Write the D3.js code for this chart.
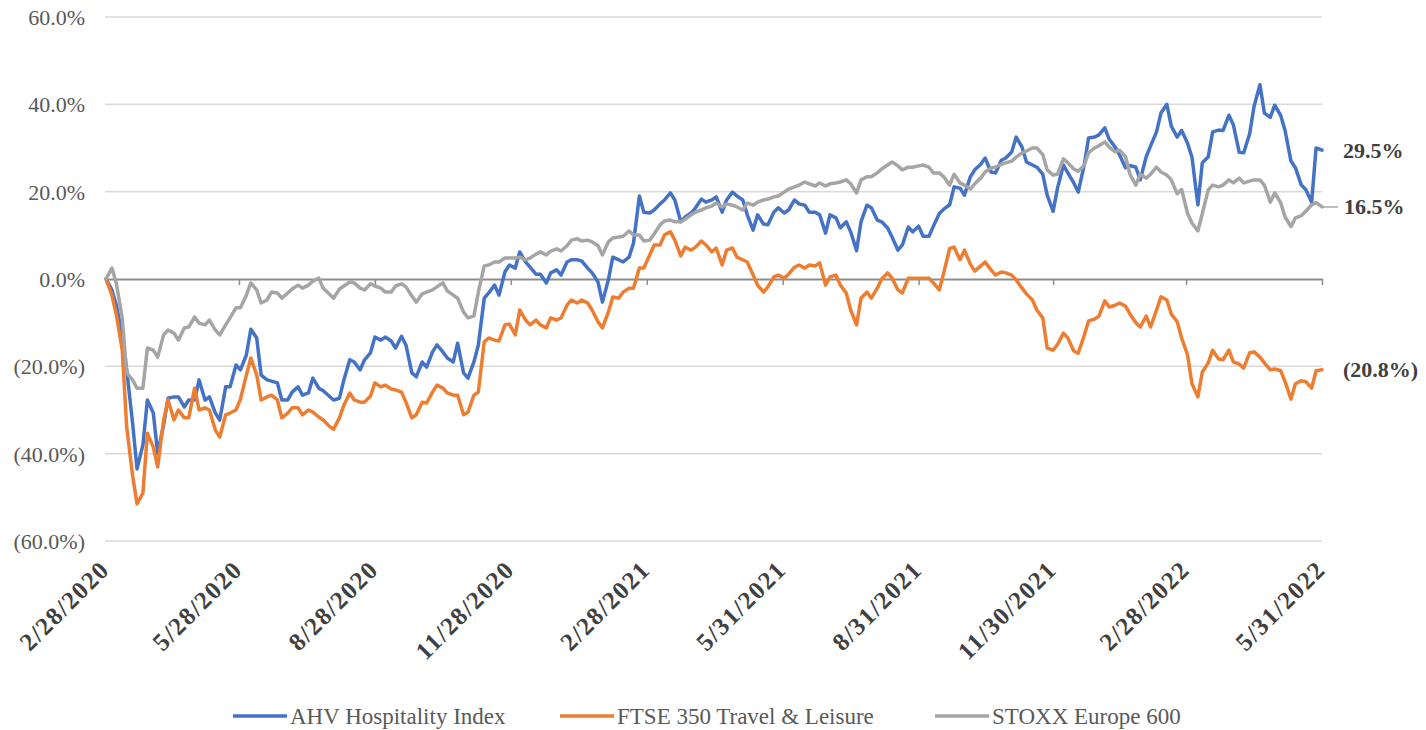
<!DOCTYPE html>
<html><head><meta charset="utf-8">
<script src="https://cdn.jsdelivr.net/npm/d3@7"></script>
<style>body{margin:0;background:#fff}svg{display:block}</style>
</head><body>
<svg id="chart" width="1426" height="730"></svg>
<script>
// ---- DATA (twice-weekly readings, Tue/Fri) ----
const dates = [
"2020-02-28",
"2020-03-03","2020-03-06","2020-03-10","2020-03-13","2020-03-17","2020-03-20","2020-03-24","2020-03-27","2020-03-31",
"2020-04-03","2020-04-07","2020-04-10","2020-04-14","2020-04-17","2020-04-21","2020-04-24","2020-04-28",
"2020-05-01","2020-05-05","2020-05-08","2020-05-12","2020-05-15","2020-05-19","2020-05-22","2020-05-26","2020-05-29",
"2020-06-02","2020-06-05","2020-06-09","2020-06-12","2020-06-16","2020-06-19","2020-06-23","2020-06-26","2020-06-30",
"2020-07-03","2020-07-07","2020-07-10","2020-07-14","2020-07-17","2020-07-21","2020-07-24","2020-07-28","2020-07-31",
"2020-08-04","2020-08-07","2020-08-11","2020-08-14","2020-08-18","2020-08-21","2020-08-25","2020-08-28",
"2020-09-01","2020-09-04","2020-09-08","2020-09-11","2020-09-15","2020-09-18","2020-09-22","2020-09-25","2020-09-29",
"2020-10-02","2020-10-06","2020-10-09","2020-10-13","2020-10-16","2020-10-20","2020-10-23","2020-10-27","2020-10-30",
"2020-11-03","2020-11-06","2020-11-10","2020-11-13","2020-11-17","2020-11-20","2020-11-24","2020-11-27",
"2020-12-01","2020-12-04","2020-12-08","2020-12-11","2020-12-15","2020-12-18","2020-12-22","2020-12-25","2020-12-29",
"2021-01-01","2021-01-05","2021-01-08","2021-01-12","2021-01-15","2021-01-19","2021-01-22","2021-01-26","2021-01-29",
"2021-02-02","2021-02-05","2021-02-09","2021-02-12","2021-02-16","2021-02-19","2021-02-23","2021-02-26",
"2021-03-02","2021-03-05","2021-03-09","2021-03-12","2021-03-16","2021-03-19","2021-03-23","2021-03-26","2021-03-30",
"2021-04-02","2021-04-06","2021-04-09","2021-04-13","2021-04-16","2021-04-20","2021-04-23","2021-04-27","2021-04-30",
"2021-05-04","2021-05-07","2021-05-11","2021-05-14","2021-05-18","2021-05-21","2021-05-25","2021-05-28",
"2021-06-01","2021-06-04","2021-06-08","2021-06-11","2021-06-15","2021-06-18","2021-06-22","2021-06-25","2021-06-29",
"2021-07-02","2021-07-06","2021-07-09","2021-07-13","2021-07-16","2021-07-20","2021-07-23","2021-07-27","2021-07-30",
"2021-08-03","2021-08-06","2021-08-10","2021-08-13","2021-08-17","2021-08-20","2021-08-24","2021-08-27","2021-08-31",
"2021-09-03","2021-09-07","2021-09-10","2021-09-14","2021-09-17","2021-09-21","2021-09-24","2021-09-28",
"2021-10-01","2021-10-05","2021-10-08","2021-10-12","2021-10-15","2021-10-19","2021-10-22","2021-10-26","2021-10-29",
"2021-11-02","2021-11-05","2021-11-09","2021-11-12","2021-11-16","2021-11-19","2021-11-23","2021-11-26","2021-11-30",
"2021-12-03","2021-12-07","2021-12-10","2021-12-14","2021-12-17","2021-12-21","2021-12-24","2021-12-28","2021-12-31",
"2022-01-04","2022-01-07","2022-01-11","2022-01-14","2022-01-18","2022-01-21","2022-01-25","2022-01-28",
"2022-02-01","2022-02-04","2022-02-08","2022-02-11","2022-02-15","2022-02-18","2022-02-22","2022-02-25",
"2022-03-01","2022-03-04","2022-03-08","2022-03-11","2022-03-15","2022-03-18","2022-03-22","2022-03-25","2022-03-29",
"2022-04-01","2022-04-05","2022-04-08","2022-04-12","2022-04-15","2022-04-19","2022-04-22","2022-04-26","2022-04-29",
"2022-05-03","2022-05-06","2022-05-10","2022-05-13","2022-05-17","2022-05-20","2022-05-24","2022-05-27","2022-05-31"
];

const ahvValues = [
0.0,
-2.5,-6.0,-12.8,-20.8,-33.0,-43.5,-38.0,-27.7,-30.7,
-40.0,-33.4,-27.3,-27.0,-27.0,-29.3,-27.7,-27.7,
-23.1,-27.7,-27.0,-30.7,-32.3,-24.7,-24.7,-19.7,-20.8,
-17.4,-11.5,-13.5,-22.0,-23.1,-23.4,-23.8,-27.7,-27.7,
-25.9,-24.7,-26.6,-26.1,-22.7,-25.0,-25.6,-26.8,-27.7,
-27.3,-23.1,-18.5,-19.0,-20.8,-18.5,-16.9,-13.3,
-14.0,-13.3,-14.2,-15.8,-13.1,-15.1,-21.5,-22.4,-19.0,
-20.2,-16.7,-15.1,-16.7,-18.1,-19.0,-14.7,-21.5,-22.7,
-19.0,-15.1,-4.4,-3.2,-1.4,-3.7,1.6,3.2,
2.5,6.2,3.9,2.7,1.1,1.1,-0.9,1.4,2.1,
0.9,3.9,4.4,4.4,4.1,2.5,1.4,-0.7,-5.3,
-0.2,5.0,4.4,3.9,5.0,8.2,19.0,15.3,
15.1,15.8,17.2,18.1,19.7,18.1,13.1,14.2,15.1,
16.3,18.3,17.6,18.1,18.8,15.3,18.1,19.9,19.0,
18.1,14.7,11.2,14.7,12.6,12.4,15.3,16.3,
15.1,15.8,18.1,17.2,16.9,15.3,15.3,14.7,10.5,
14.7,14.0,11.7,13.1,10.8,6.5,13.1,16.9,16.3,
13.5,13.1,11.7,9.6,6.6,7.8,11.9,10.8,12.1,
9.8,9.8,12.1,15.0,16.0,17.0,21.1,20.8,
19.2,23.4,25.0,26.3,27.7,24.5,24.3,27.2,27.7,
29.1,32.5,30.2,26.8,26.1,25.6,24.0,19.2,15.5,
20.8,26.1,24.3,22.0,19.9,26.0,32.3,32.5,33.0,
34.6,32.0,30.2,28.4,25.5,26.0,25.6,22.7,
28.0,30.5,33.7,38.0,40.0,35.0,32.5,34.0,
31.1,27.9,17.0,26.6,28.0,33.7,34.1,34.0,37.5,
35.3,29.0,28.9,33.2,39.5,44.5,38.0,37.0,39.8,
37.5,34.0,27.0,25.5,21.5,20.5,17.6,30.0,29.5
];

const ftseValues = [
0.0,
-3.7,-8.2,-16.3,-33.9,-45.0,-51.5,-49.0,-35.3,-38.5,
-43.0,-32.3,-27.7,-32.3,-30.0,-31.8,-31.8,-25.0,
-30.0,-29.5,-30.0,-34.6,-36.2,-31.1,-30.7,-30.0,-27.5,
-22.0,-18.1,-22.0,-27.7,-27.0,-26.6,-27.7,-31.8,-30.7,
-29.5,-29.5,-31.1,-30.0,-30.5,-31.6,-32.3,-33.7,-34.4,
-31.8,-28.9,-26.1,-27.7,-28.2,-28.2,-26.8,-23.8,
-24.7,-24.3,-25.2,-25.4,-25.9,-28.2,-31.8,-31.1,-28.2,
-28.4,-25.9,-24.3,-25.0,-26.1,-26.6,-26.6,-31.1,-30.5,
-26.6,-25.9,-14.4,-13.5,-14.0,-14.2,-10.5,-10.3,
-12.8,-7.1,-9.4,-10.5,-9.4,-10.5,-11.2,-8.9,-9.4,
-8.9,-6.0,-4.8,-5.5,-4.8,-5.5,-7.1,-9.8,-11.2,
-7.6,-4.1,-4.4,-3.0,-2.1,-2.1,2.5,2.5,
5.5,7.8,7.8,10.1,10.8,8.9,5.3,7.3,6.6,
7.3,8.7,7.8,6.2,7.1,3.2,6.6,7.1,5.0,
4.4,3.9,0.9,-1.4,-3.0,-1.8,0.5,0.9,
0.2,1.1,2.7,3.2,2.5,3.2,3.0,3.7,-1.4,
0.5,0.9,-1.4,-3.2,-7.1,-10.5,-4.4,-3.0,-4.4,
-2.1,0.0,1.4,0.2,-2.5,-3.2,0.2,0.2,0.2,
0.2,0.2,-0.9,-2.5,1.4,7.0,7.3,4.4,
6.6,3.4,1.8,3.0,3.9,2.1,0.9,1.6,1.4,
0.9,-0.2,-2.1,-3.4,-4.8,-7.1,-8.9,-15.8,-16.3,
-15.0,-12.4,-13.5,-16.5,-17.0,-13.0,-9.6,-9.2,-8.5,
-5.0,-6.4,-6.0,-5.5,-6.2,-8.0,-10.0,-11.0,
-8.5,-11.0,-7.1,-4.1,-4.8,-8.0,-9.8,-13.5,
-17.4,-24.0,-27.0,-21.3,-19.2,-16.3,-18.3,-18.5,-16.3,
-19.0,-19.5,-20.4,-16.9,-16.7,-17.9,-19.2,-20.8,-20.6,
-21.0,-23.5,-27.5,-24.0,-23.3,-23.5,-25.0,-21.0,-20.8
];

const stoxxValues = [
0.0,
2.5,-1.0,-9.0,-21.5,-23.1,-25.0,-25.0,-15.8,-16.3,
-17.9,-12.8,-11.7,-12.4,-14.0,-11.2,-11.0,-8.7,
-10.1,-10.5,-9.4,-11.7,-12.8,-10.5,-8.9,-6.6,-6.6,
-3.7,-0.9,-2.5,-5.5,-4.8,-3.0,-3.2,-4.4,-3.2,
-2.3,-1.4,-2.1,-1.4,-0.5,0.2,-2.1,-3.4,-4.4,
-2.3,-1.6,-0.7,-0.9,-2.1,-2.5,-1.1,-1.6,
-2.1,-3.0,-3.0,-1.6,-1.1,-1.8,-3.9,-5.3,-3.4,
-3.0,-2.5,-1.8,-0.9,-2.7,-3.7,-4.4,-7.6,-8.9,
-8.5,-3.0,3.0,3.2,3.9,3.9,4.8,4.8,
4.8,5.0,4.4,4.8,5.7,6.2,5.5,6.4,6.9,
6.4,7.6,8.9,9.2,8.7,8.9,8.5,7.6,5.5,
8.5,9.4,9.6,9.8,11.0,10.1,10.1,8.7,
8.9,10.3,12.4,13.3,13.5,13.1,13.1,13.7,14.7,
15.3,15.8,16.3,16.7,17.4,16.5,17.2,16.9,16.5,
15.8,17.4,16.9,17.6,18.1,18.3,18.8,19.0,
19.9,20.6,21.1,21.5,22.2,21.8,21.3,22.0,21.3,
21.8,22.0,22.2,22.7,21.8,19.7,22.7,23.4,23.4,
24.3,25.2,26.1,26.8,25.9,25.0,25.6,25.6,25.9,
26.1,25.6,24.3,24.3,23.4,21.5,24.0,22.0,
21.5,20.6,21.8,23.1,24.5,25.4,25.6,26.3,26.6,
27.0,27.9,28.9,29.3,30.0,30.0,28.5,25.0,23.8,
24.0,27.5,26.6,25.2,24.7,26.0,28.9,30.0,30.5,
31.4,30.2,29.1,29.5,28.0,24.0,21.5,24.0,
23.1,24.0,25.6,24.5,23.8,22.7,19.5,20.5,
15.0,12.8,11.0,15.0,20.4,21.5,21.1,21.5,22.7,
22.0,23.1,22.0,22.4,22.7,22.7,21.5,17.6,19.7,
17.5,14.2,12.0,14.0,14.5,15.5,17.0,17.5,16.5
];

const seriesNames = ["AHV Hospitality Index", "FTSE 350 Travel & Leisure", "STOXX Europe 600"];
const seriesColors = ["#4472C4", "#ED7D31", "#A5A5A5"];
const yTickValues = [-60, -40, -20, 0, 20, 40, 60];
const xTickDates = ["2020-02-28","2020-05-28","2020-08-28","2020-11-28","2021-02-28","2021-05-31","2021-08-31","2021-11-30","2022-02-28","2022-05-31"];
const xTickLabels = ["2/28/2020","5/28/2020","8/28/2020","11/28/2020","2/28/2021","5/31/2021","8/31/2021","11/30/2021","2/28/2022","5/31/2022"];

// ---- CHART ----
const parse = d3.timeParse("%Y-%m-%d");
const M = {left: 106, right: 1322, top: 17, bottom: 541};
const svg = d3.select("#chart");
const FONT = "'Liberation Serif', 'Times New Roman', serif";

const x = d3.scaleTime().domain([parse(dates[0]), parse(dates[dates.length - 1])]).range([M.left, M.right]);
const y = d3.scaleLinear().domain([-60, 60]).range([M.bottom, M.top]);

const fmt = v => v < 0 ? "(" + Math.abs(v).toFixed(1) + "%)" : v.toFixed(1) + "%";

// gridlines
svg.append("g").selectAll("line").data(yTickValues.filter(v => v !== 0)).join("line")
  .attr("x1", M.left - 1).attr("x2", M.right)
  .attr("y1", d => y(d)).attr("y2", d => y(d))
  .attr("stroke", "#D9D9D9").attr("stroke-width", 1.5);

// y axis labels
const yAxis = d3.axisLeft(y).tickValues(yTickValues).tickFormat(fmt).tickSize(0).tickPadding(0);
const yg = svg.append("g").attr("transform", `translate(${M.left - 21},0)`).call(yAxis);
yg.select(".domain").remove();
yg.selectAll("text").attr("font-family", FONT).attr("font-size", 22).attr("fill", "#595959").attr("dy", "0.34em");

// zero axis with ticks
const xAxis = d3.axisBottom(x).tickValues(xTickDates.map(parse)).tickFormat("").tickSize(6).tickSizeOuter(0);
const xg = svg.append("g").attr("transform", `translate(0,${y(0)})`).call(xAxis);
xg.select(".domain").attr("stroke", "#8C8C8C").attr("stroke-width", 2);
xg.selectAll(".tick line").attr("stroke", "#8C8C8C").attr("stroke-width", 1.5);

// x labels (rotated)
svg.append("g").selectAll("text").data(xTickDates).join("text")
  .attr("transform", (d) => `translate(${x(parse(d)) + 5},${M.bottom + 30}) rotate(-45)`)
  .attr("text-anchor", "end")
  .attr("font-family", FONT).attr("font-size", 25).attr("font-weight", "bold")
  .attr("letter-spacing", "1.5px")
  .attr("fill", "#404040")
  .text((d, i) => xTickLabels[i]);

// lines
const seriesData = [ahvValues, ftseValues, stoxxValues];
const line = d3.line().x(d => x(d.date)).y(d => y(d.value)).curve(d3.curveLinear);
seriesData.forEach((vals, si) => {
  const pts = dates.map((d, i) => ({date: parse(d), value: vals[i]}));
  svg.append("path").datum(pts)
    .attr("d", line)
    .attr("fill", "none")
    .attr("stroke", seriesColors[si])
    .attr("stroke-width", 3.5)
    .attr("stroke-linejoin", "round")
    .attr("stroke-linecap", "round");
});

// end labels
const lastX = x(parse(dates[dates.length - 1]));
seriesData.forEach((vals, si) => {
  const v = vals[vals.length - 1];
  const yy = y(v);
  let lx = lastX + 21;
  if (si === 2) {
    svg.append("line").attr("x1", lastX).attr("x2", lastX + 16).attr("y1", yy).attr("y2", yy)
      .attr("stroke", "#A5A5A5").attr("stroke-width", 1.5);
    lx = lastX + 22;
  }
  svg.append("text").attr("x", lx).attr("y", yy).attr("dy", "0.34em")
    .attr("font-family", FONT).attr("font-size", 22).attr("font-weight", "bold")
    .attr("fill", "#404040").text(fmt(v));
});

// legend
const legendX = [233, 560, 935];
const legendY = 716;
seriesNames.forEach((name, i) => {
  svg.append("line").attr("x1", legendX[i]).attr("x2", legendX[i] + 54)
    .attr("y1", legendY).attr("y2", legendY)
    .attr("stroke", seriesColors[i]).attr("stroke-width", 3.5);
  svg.append("text").attr("x", legendX[i] + 57).attr("y", legendY).attr("dy", "0.34em")
    .attr("font-family", FONT).attr("font-size", 23).attr("fill", "#595959").text(name);
});
</script>
</body></html>
